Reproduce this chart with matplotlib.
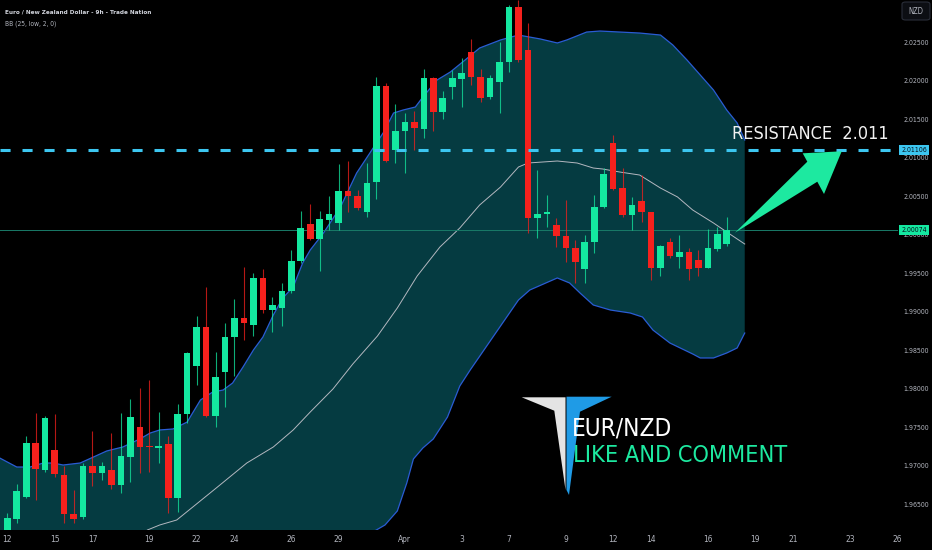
import matplotlib
matplotlib.use('Agg')
import matplotlib.pyplot as plt
import matplotlib.transforms as mtransforms
from matplotlib import font_manager as fm
from matplotlib.patches import Polygon, FancyBboxPatch
import numpy as np

# EUR/NZD 9h candles (one entry per bar)
opens = [1.96175, 1.96314, 1.96607, 1.97301, 1.96954, 1.97214, 1.96889, 1.96383, 1.96348, 1.97006,
         1.96911, 1.96954, 1.96759, 1.97127, 1.97517, 1.97266, 1.97244, 1.97292, 1.96587, 1.97678,
         1.98305, 1.98808, 1.97659, 1.98231, 1.98685, 1.98932, 1.98837, 1.99444, 1.99032, 1.99062,
         1.99279, 1.99668, 2.00149, 1.99954, 2.00201, 2.00158, 2.00578, 2.00517, 2.00309, 2.00698,
         2.01941, 2.01110, 2.01361, 2.01474, 2.01383, 2.02041, 2.01607, 2.01924, 2.02032, 2.02387,
         2.02054, 2.01794, 2.01997, 2.02257, 2.02963, 2.02409, 2.00231, 2.00283, 2.00132, 1.99993,
         1.99842, 1.99560, 1.99911, 2.00370, 2.01205, 2.00612, 2.00266, 2.00448, 2.00309, 1.99582,
         1.99919, 1.99725, 1.99781, 1.99681, 1.99582, 1.99824, 1.99885]
highs = [1.96400, 1.96772, 1.97396, 1.97690, 1.97655, 1.97681, 1.97006, 1.96694, 1.97041, 1.97465,
         1.97062, 1.97431, 1.97690, 1.97872, 1.98015, 1.98123, 1.97711, 1.97396, 1.97811, 1.98491,
         1.98954, 1.99327, 1.98487, 1.98859, 1.99171, 1.99587, 1.99509, 1.99561, 1.99197, 1.99379,
         1.99811, 2.00318, 2.00409, 2.00318, 2.00517, 2.00924, 2.00971, 2.00591, 2.00945, 2.02054,
         2.01976, 2.01703, 2.01587, 2.01620, 2.02158, 2.02062, 2.01876, 2.02149, 2.02309, 2.02548,
         2.02162, 2.02084, 2.02517, 2.02993, 2.03058, 2.02755, 2.00850, 2.00526, 2.00223, 2.00461,
         1.99941, 2.00006, 2.00526, 2.00872, 2.01305, 2.00872, 2.00504, 2.00785, 2.00309, 1.99876,
         1.99963, 2.00006, 1.99833, 1.99811, 2.00080, 2.00114, 2.00244]
lows = [1.96150, 1.96262, 1.96587, 1.96565, 1.96932, 1.96867, 1.96262, 1.96262, 1.96314, 1.96746,
        1.96824, 1.96703, 1.96659, 1.96802, 1.96911, 1.96932, 1.97041, 1.96400, 1.96413, 1.97561,
        1.98058, 1.97639, 1.97509, 1.97776, 1.98179, 1.98643, 1.98694, 1.98997, 1.98750, 1.98824,
        1.99249, 1.99638, 1.99941, 1.99539, 2.00067, 2.00071, 2.00309, 2.00331, 2.00244, 2.00474,
        2.00954, 2.00937, 2.00815, 2.01110, 2.01262, 2.01361, 2.01509, 2.01768, 2.01665, 2.01954,
        2.01738, 2.01772, 2.01586, 2.02127, 2.02257, 2.00028, 1.99963, 2.00114, 1.99855, 1.99660,
        1.99378, 1.99387, 1.99768, 2.00352, 2.00590, 2.00244, 2.00071, 2.00179, 1.99422, 1.99478,
        1.99703, 1.99573, 1.99422, 1.99474, 1.99573, 1.99803, 1.99863]
closes = [1.96327, 1.96681, 1.97301, 1.96963, 1.97633, 1.96898, 1.96383, 1.96314, 1.97010, 1.96911,
          1.97006, 1.96759, 1.97140, 1.97646, 1.97249, 1.97253, 1.97270, 1.96587, 1.97678, 1.98470,
          1.98808, 1.97659, 1.98158, 1.98685, 1.98932, 1.98867, 1.99444, 1.99032, 1.99097, 1.99283,
          1.99668, 2.00093, 1.99954, 2.00210, 2.00279, 2.00578, 2.00517, 2.00353, 2.00685, 2.01941,
          2.00967, 2.01361, 2.01474, 2.01392, 2.02041, 2.01607, 2.01781, 2.02041, 2.02106, 2.02054,
          2.01790, 2.02041, 2.02257, 2.02971, 2.02279, 2.00231, 2.00274, 2.00296, 1.99997, 1.99842,
          1.99651, 1.99919, 2.00374, 2.00798, 2.00599, 2.00266, 2.00396, 2.00309, 1.99582, 1.99863,
          1.99733, 1.99781, 1.99560, 1.99582, 1.99833, 2.00019, 2.00074]

bb_upper_x = [-0.8, 1.0, 2.4, 3.8, 4.8, 5.9, 7.7, 9.1, 10.5, 12.2, 14.0, 15.1, 16.1, 17.5, 19.0, 20.4,
              21.7, 22.8, 23.8, 24.9, 26.0, 27.0, 28.1, 29.1, 30.2, 31.2, 32.0, 33.4, 35.2, 36.9, 38.3,
              39.7, 40.8, 41.8, 43.1, 43.9, 45.4, 46.8, 48.1, 49.9, 52.1, 54.0, 56.3, 58.1, 59.1, 61.2,
              62.6, 64.7, 66.8, 69.0, 70.3, 71.8, 73.2, 74.6, 76.0, 77.1, 77.9]
bb_upper = [1.97110, 1.96993, 1.96993, 1.97045, 1.97045, 1.97019, 1.97045, 1.97123, 1.97201, 1.97253,
            1.97357, 1.97435, 1.97474, 1.97487, 1.97577, 1.97863, 1.97967, 1.97993, 1.98084, 1.98292,
            1.98513, 1.98681, 1.98967, 1.99188, 1.99331, 1.99642, 1.99811, 2.00032, 2.00370, 2.00811,
            2.01071, 2.01331, 2.01590, 2.01629, 2.01668, 2.01798, 2.02019, 2.02123, 2.02253, 2.02435,
            2.02539, 2.02603, 2.02552, 2.02500, 2.02539, 2.02642, 2.02655, 2.02642, 2.02629, 2.02603,
            2.02474, 2.02279, 2.02084, 2.01889, 2.01629, 2.01461, 2.01240]
bb_lower_x = [38.8, 39.9, 41.2, 42.2, 42.9, 43.9, 45.0, 46.5, 47.8, 48.9, 51.3, 54.0, 55.2, 58.1,
              59.4, 60.5, 61.9, 63.7, 65.8, 67.1, 68.2, 70.0, 72.4, 73.2, 74.6, 76.0, 77.1, 77.9]
bb_lower = [1.96162, 1.96240, 1.96422, 1.96785, 1.97097, 1.97240, 1.97357, 1.97642, 1.98045, 1.98253,
            1.98681, 1.99162, 1.99292, 1.99448, 1.99383, 1.99253, 1.99097, 1.99032, 1.98993, 1.98941,
            1.98772, 1.98603, 1.98461, 1.98409, 1.98409, 1.98474, 1.98539, 1.98733]
bb_mid_x = [14.8, 16.1, 17.9, 19.6, 22.2, 25.3, 28.1, 30.2, 32.0, 34.4, 36.5, 39.1, 41.2, 43.3, 45.7,
            47.8, 49.9, 52.1, 54.0, 55.0, 58.1, 60.2, 61.9, 62.9, 64.7, 66.8, 69.0, 70.8, 72.4, 74.6,
            76.0, 77.9]
bb_mid = [1.96175, 1.96240, 1.96305, 1.96474, 1.96733, 1.97045, 1.97253, 1.97474, 1.97707, 1.98006,
          1.98331, 1.98694, 1.99058, 1.99474, 1.99850, 2.00097, 2.00396, 2.00629, 2.00889, 2.00941,
          2.00967, 2.00941, 2.00876, 2.00863, 2.00824, 2.00785, 2.00616, 2.00500, 2.00331, 2.00162,
          2.00045, 1.99889]

resistance = 2.01106
last_price = 2.00074

price_ticks = [1.965, 1.970, 1.975, 1.980, 1.985, 1.990, 1.995, 2.000, 2.005, 2.010, 2.015, 2.020, 2.025]
date_labels = ['12', '15', '17', '19', '22', '24', '26', '29', 'Apr', '3', '7', '9', '12', '14', '16',
               '19', '21', '23', '26']
date_pos = [0, 5, 9, 15, 20, 24, 30, 35, 42, 48, 53, 59, 64, 68, 74, 79, 83, 89, 94]

title = 'Euro / New Zealand Dollar - 9h - Trade Nation'
indicator = 'BB (25, low, 2, 0)'

GREEN = '#14e8a0'
RED = '#f5211d'
BAND_FILL = '#053b41'
BAND_LINE = '#2a5cd4'
MID_LINE = '#b4b8c0'
CYAN = '#3cc6f0'
AXIS_TXT = '#b2b5be'

W, H = 932, 550


def find_narrow(bold=False):
    best = None
    for f in fm.fontManager.ttflist:
        n = f.name.lower()
        if 'mono' in n or ('serif' in n and 'sans' not in n):
            continue
        if not ('narrow' in n or 'condensed' in n or 'condensed' in str(f.stretch)):
            continue
        if f.style != 'normal':
            continue
        w = f.weight if isinstance(f.weight, int) else fm.weight_dict.get(f.weight, 400)
        score = abs(w - (700 if bold else 400))
        if best is None or score < best[0]:
            best = (score, f.fname)
    if best:
        return fm.FontProperties(fname=best[1])
    return fm.FontProperties(family=['Roboto', 'DejaVu Sans'], weight='bold' if bold else 'normal')


fp = find_narrow()
fp_bold = find_narrow(bold=True)


def px(x, y):
    # figure pixel -> figure fraction (y measured from top)
    return x / W, 1 - y / H


fig = plt.figure(figsize=(W / 100, H / 100), dpi=100, facecolor='black')
ax = fig.add_axes([0, 20 / H, 898 / W, 530 / H], facecolor='black')
ax.set_xlim(-0.77, 94.09)
ax.set_ylim(1.96175, 2.03058)
for s in ax.spines.values():
    s.set_visible(False)
ax.set_xticks([])
ax.set_yticks([])
renderer = fig.canvas.get_renderer()


def fit_size(s, width, font):
    t = fig.text(0, 0, s, fontproperties=font)
    t.set_fontsize(10)
    w = t.get_window_extent(renderer).width
    t.remove()
    return 10 * width / w


# bands
ybot = ax.get_ylim()[0] - 0.002
verts = list(zip(bb_upper_x, bb_upper)) + list(zip(bb_lower_x[::-1], bb_lower[::-1])) \
    + [(bb_lower_x[0], ybot), (bb_upper_x[0], ybot)]
ax.add_patch(Polygon(verts, closed=True, fc=BAND_FILL, ec='none', zorder=1))
ax.plot(bb_upper_x, bb_upper, color=BAND_LINE, lw=0.9, zorder=2)
ax.plot(bb_lower_x, bb_lower, color=BAND_LINE, lw=0.9, zorder=2)
ax.plot(bb_mid_x, bb_mid, color=MID_LINE, lw=0.7, zorder=2)

# candles
o = np.array(opens)
c = np.array(closes)
x = np.arange(len(o))
cols = [GREEN if cc >= oo else RED for oo, cc in zip(o, c)]
body_lo = np.minimum(o, c)
body_h = np.maximum(np.abs(c - o), 0.00016)
ax.vlines(x, lows, highs, colors=cols, lw=0.8, alpha=0.75, zorder=3)
ax.bar(x, body_h, bottom=body_lo, width=0.7, color=cols, linewidth=0, zorder=4)

# price lines
ax.axhline(last_price, color='#197a68', lw=0.7, zorder=2.5)
ax.axhline(resistance, color=CYAN, lw=2.2, dashes=(3.3, 3.9), zorder=5)

# right price scale
lab_size = fit_size('2.02500', 26, fp)
ytf = mtransforms.blended_transform_factory(fig.transFigure, ax.transData)
for p in price_ticks:
    t = fig.text(903.5 / W, p, f'{p:.5f}', transform=ytf, ha='left', va='center',
                 color=AXIS_TXT, fontproperties=fp)
    t.set_fontsize(lab_size)
for p, bg in [(resistance, CYAN), (last_price, GREEN)]:
    t = fig.text(901.5 / W, p, f'{p:.5f}', transform=ytf, ha='left', va='center', color='#06121c',
                 fontproperties=fp, zorder=6,
                 bbox=dict(boxstyle='square,pad=0.3', fc=bg, ec='none'))
    t.set_fontsize(lab_size)

# time scale
xtf = mtransforms.blended_transform_factory(ax.transData, fig.transFigure)
for lab, pos in zip(date_labels, date_pos):
    t = fig.text(pos, 1 - 540 / H, lab, transform=xtf, ha='center', va='center',
                 color=AXIS_TXT, fontproperties=fp, clip_on=False)
    t.set_fontsize(6)

# currency box
fig.add_artist(FancyBboxPatch(px(902, 20), 28 / W, 18 / H, boxstyle='round,pad=0,rounding_size=0.004',
                              transform=fig.transFigure, fc='#0c0e13', ec='#2a2e39', lw=0.8))
t = fig.text(*px(916, 11.5), 'NZD', ha='center', va='center', color=AXIS_TXT, fontproperties=fp)
t.set_fontsize(5.5)


def put(xp, yp, s, width, color, font, ha='left'):
    t = fig.text(*px(xp, yp), s, ha=ha, va='center', color=color, fontproperties=font, zorder=8)
    t.set_fontsize(fit_size(s, width, font))
    return t


# header
put(5, 12, title, 145, '#d1d4dc', fp_bold)
put(5, 24, indicator, 52, AXIS_TXT, fp)

# resistance annotation and arrow
put(732, 134, 'RESISTANCE  2.011', 157, '#f2f2f2', fp)
arrow = [(735, 232.7), (807.3, 161.7), (802.7, 153.3), (841.7, 151.3), (824, 194), (817.3, 181.7)]
fig.add_artist(Polygon([px(a, b) for a, b in arrow], closed=True, transform=fig.transFigure,
                       fc='#1de9a0', ec='none', zorder=7))

# logo
white_part = [(521.7, 397.3), (565.5, 397.3), (565.5, 490), (554.3, 410.7)]
blue_part = [(566.5, 396.7), (611.7, 396.7), (580, 411.7), (569, 495), (566.5, 490)]
fig.add_artist(Polygon([px(a, b) for a, b in white_part], closed=True, transform=fig.transFigure,
                       fc='#e4e4e4', ec='none', zorder=7))
fig.add_artist(Polygon([px(a, b) for a, b in blue_part], closed=True, transform=fig.transFigure,
                       fc='#1f9be6', ec='none', zorder=7))
put(572, 429, 'EUR/NZD', 100, '#ffffff', fp)
put(573, 456, 'LIKE AND COMMENT', 214, '#1de9a0', fp)

fig.savefig('out.png', dpi=100, facecolor='black')
